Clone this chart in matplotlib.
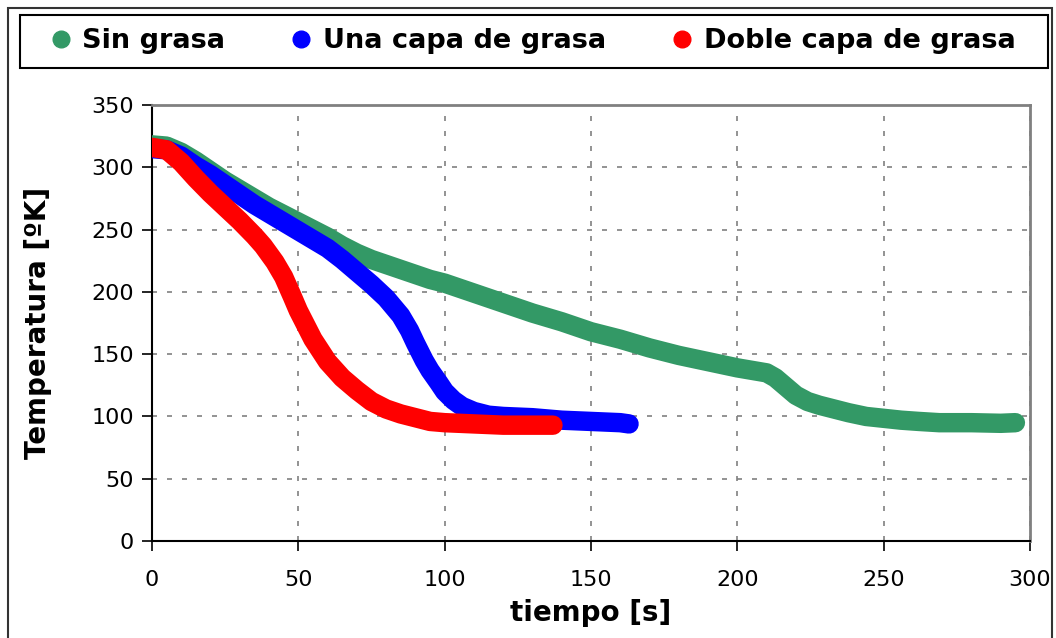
import matplotlib
matplotlib.use("Agg")
import matplotlib.pyplot as plt
from matplotlib.lines import Line2D
from matplotlib.patches import Rectangle

####################################################

# Data

labels = ["Sin grasa", "Una capa de grasa", "Doble capa de grasa"]
colors = ["#339966", "#0000FF", "#FF0000"]

t_sin = [0, 5, 10, 15, 20, 25, 30, 35, 40, 45, 50, 55, 60, 65, 70, 75, 80,
         85, 90, 95, 100, 110, 120, 130, 140, 150, 160, 170, 180, 190, 200,
         205, 210, 213, 217, 220, 224, 228, 233, 238, 244, 250, 256, 262,
         269, 280, 290, 295]
T_sin = [318, 317, 312, 305, 297, 289, 282, 275, 268, 262, 256, 250, 244,
         237, 231, 226, 222, 218, 214, 210, 207, 199, 191, 183, 176, 168,
         162, 155, 149, 144, 139, 137, 135, 131, 123, 117, 112, 109, 106,
         103, 100, 98.5, 97, 96, 95, 95, 94.5, 95]

t_una = [0, 5, 10, 15, 20, 25, 30, 35, 40, 45, 50, 55, 60, 65, 70, 75, 80,
         85, 88, 90, 93, 95, 98, 100, 103, 106, 110, 115, 120, 130, 140, 150,
         160, 163]
T_una = [315, 314, 309, 301, 294, 286, 278, 270, 263, 256, 249, 242, 235,
         226, 216, 206, 195, 181, 169, 159, 145, 137, 127, 120, 113, 108,
         104, 101, 100, 99, 97, 96, 95, 94]

t_doble = [0, 5, 10, 15, 20, 25, 30, 35, 38, 42, 45, 48, 50, 55, 60, 65, 70,
           75, 80, 85, 90, 95, 100, 110, 120, 130, 137]
T_doble = [316, 314, 304, 291, 279, 268, 257, 245, 237, 224, 212, 196, 185,
           162, 144, 131, 121, 112, 106, 102, 99, 96, 95, 94, 93, 93, 93]

xticks = [0, 50, 100, 150, 200, 250, 300]
yticks = [0, 50, 100, 150, 200, 250, 300, 350]

####################################################

fig = plt.figure(figsize=(10.56, 6.38), dpi=100)
ax = fig.add_axes([0.1439, 0.152, 0.8315, 0.6834])

series = [(t_sin, T_sin), (t_una, T_una), (t_doble, T_doble)]
for (t, T), c in zip(series, colors):
    ax.plot(t, T, "-", color=c, lw=14, solid_capstyle="round",
            solid_joinstyle="round", zorder=3)

ax.set_xlim(0, 300)
ax.set_ylim(0, 350)
ax.set_xticks(xticks)
ax.set_yticks(yticks)
ax.tick_params(labelsize=16, direction="out", length=7, width=1.2, pad=6)
ax.tick_params(axis="x", pad=14)
ax.grid(True, color="#808080", linestyle=(0, (3, 6)), linewidth=1.2)
ax.set_axisbelow(True)

for s in ["left", "bottom"]:
    ax.spines[s].set_color("black")
    ax.spines[s].set_linewidth(1.5)
for s in ["top", "right"]:
    ax.spines[s].set_color("#808080")
    ax.spines[s].set_linewidth(2)

ax.set_xlabel("tiempo [s]", fontsize=20, fontweight="bold", labelpad=6)
ax.set_ylabel("Temperatura [ºK]", fontsize=20, fontweight="bold", labelpad=28)

# legend box across the top
fig.patches.append(Rectangle((20 / 1056, 1 - 68 / 638), 1028 / 1056, 53 / 638,
                             transform=fig.transFigure, fill=False,
                             edgecolor="black", linewidth=1.5))
handles = [Line2D([], [], marker="o", ls="none", color=c, markersize=12)
           for c in colors]
leg = fig.legend(handles, labels, loc="center", ncol=3,
                 bbox_to_anchor=(20 / 1056, 1 - 68 / 638, 1028 / 1056, 53 / 638),
                 prop={"size": 19.5, "weight": "bold"}, frameon=False,
                 handlelength=0.6, handletextpad=0.5,
                 columnspacing=2.5, borderaxespad=0)

# outer chart frame
fig.patches.append(Rectangle((8 / 1056, -0.1), 1044 / 1056, 1.1 - 8 / 638,
                             transform=fig.transFigure, fill=False,
                             edgecolor="#333333", linewidth=1.5))

fig.savefig("out.png", dpi=100)
